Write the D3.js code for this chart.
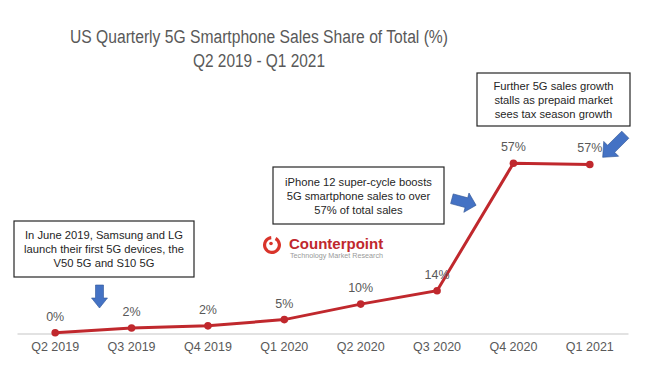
<!DOCTYPE html>
<html>
<head>
<meta charset="utf-8">
<script src="https://cdn.jsdelivr.net/npm/d3@7"></script>
<style>
  body { margin: 0; background: #fff; }
  svg text { font-family: "Liberation Sans", Arial, sans-serif; }
</style>
</head>
<body>
<div id="chart"></div>
<script>
// data
const quarters = ["Q2 2019", "Q3 2019", "Q4 2019", "Q1 2020", "Q2 2020", "Q3 2020", "Q4 2020", "Q1 2021"];
const share = [0.1, 1.7, 2.4, 4.5, 9.7, 14.2, 57, 56.6];
const titleLines = ["US Quarterly 5G Smartphone Sales Share of Total (%)", "Q2 2019 - Q1 2021"];
const notes = [
  ["In June 2019, Samsung and LG", "launch their first 5G devices, the", "V50 5G and S10 5G"],
  ["iPhone 12 super-cycle boosts", "5G smartphone sales to over", "57% of total sales"],
  ["Further 5G sales growth", "stalls as prepaid market", "sees tax season growth"]
];

const W = 650, H = 375;
const svg = d3.select("#chart").append("svg").attr("width", W).attr("height", H);

const x = d3.scaleBand().domain(quarters).range([17, 628]);
const y = d3.scaleLinear().domain([0, 57]).range([333, 163.3]);
const cx = d => x(d) + x.bandwidth() / 2;

// title (source text is slightly condensed)
const titleWidths = [378, 132];
svg.append("g").selectAll("text").data(titleLines).join("text")
  .attr("x", 259).attr("y", (d, i) => 42.5 + i * 24)
  .attr("text-anchor", "middle")
  .attr("fill", "#595959").attr("font-size", 18)
  .attr("textLength", (d, i) => titleWidths[i]).attr("lengthAdjust", "spacingAndGlyphs")
  .text(d => d);

// axis
const xAxis = svg.append("g").attr("transform", "translate(0,333.5)")
  .call(d3.axisBottom(x).tickSize(0).tickPadding(9));
xAxis.select(".domain").attr("stroke", "#d9d9d9").attr("stroke-width", 1.5);
xAxis.selectAll("text").attr("fill", "#595959").attr("font-size", 12.5)
  .attr("font-family", "Liberation Sans, Arial, sans-serif");

// line + points
const line = d3.line().x((d, i) => cx(quarters[i])).y(d => y(d));
svg.append("path").datum(share)
  .attr("fill", "none").attr("stroke", "#c0282d").attr("stroke-width", 3)
  .attr("d", line);

svg.append("g").selectAll("circle").data(share).join("circle")
  .attr("cx", (d, i) => cx(quarters[i])).attr("cy", d => y(d))
  .attr("r", 3.8).attr("fill", "#c0282d");

svg.append("g").selectAll("text").data(share).join("text")
  .attr("x", (d, i) => cx(quarters[i])).attr("y", d => y(d) - 12)
  .attr("text-anchor", "middle").attr("fill", "#595959").attr("font-size", 12.5)
  .text(d => Math.round(d) + "%");

// annotation boxes
const boxes = [
  { x: 14, y: 221, w: 180, h: 56 },
  { x: 273, y: 167, w: 171, h: 57 },
  { x: 477, y: 73, w: 153, h: 53 }
];
boxes.forEach((b, k) => {
  const g = svg.append("g");
  g.append("rect").attr("x", b.x).attr("y", b.y).attr("width", b.w).attr("height", b.h)
    .attr("fill", "#fff").attr("stroke", "#262626").attr("stroke-width", 1.2);
  g.selectAll("text").data(notes[k]).join("text")
    .attr("x", b.x + b.w / 2)
    .attr("y", (d, i) => b.y + b.h / 2 - 10 + i * 14)
    .attr("text-anchor", "middle").attr("fill", "#262626").attr("font-size", 11.2)
    .text(d => d);
});

// blue block arrows (drawn pointing down, then rotated)
function blockArrow(cxp, cyp, len, shaft, head, headLen, rot) {
  const t = -len / 2, b = len / 2, hs = b - headLen;
  const p = [[-shaft / 2, t], [shaft / 2, t], [shaft / 2, hs], [head / 2, hs], [0, b],
             [-head / 2, hs], [-shaft / 2, hs]];
  svg.append("path")
    .attr("d", d3.line()(p) + "Z")
    .attr("transform", `translate(${cxp},${cyp}) rotate(${rot})`)
    .attr("fill", "#4472c4").attr("stroke", "#2f5597").attr("stroke-width", 0.6);
}
blockArrow(99.5, 296.5, 23, 8, 16, 10, 0);
blockArrow(464, 202, 25, 10, 20, 10, -75);
blockArrow(614, 146, 32, 10, 21, 12, 45);

// Counterpoint logo
const logo = svg.append("g");
const ring = d3.arc().innerRadius(5.8).outerRadius(9).startAngle(0.5).endAngle(2 * Math.PI - 0.1);
logo.append("path").attr("d", ring()).attr("transform", "translate(272,245)").attr("fill", "#d9342b");
logo.append("circle").attr("cx", 271).attr("cy", 243.5).attr("r", 1.8).attr("fill", "#d9342b");
logo.append("text").attr("x", 289).attr("y", 249).attr("fill", "#c0282d")
  .attr("font-size", 15).attr("font-weight", "bold").text("Counterpoint");
logo.append("text").attr("x", 290).attr("y", 258).attr("fill", "#9a9a9a")
  .attr("font-size", 7.2).text("Technology Market Research");
</script>
</body>
</html>
